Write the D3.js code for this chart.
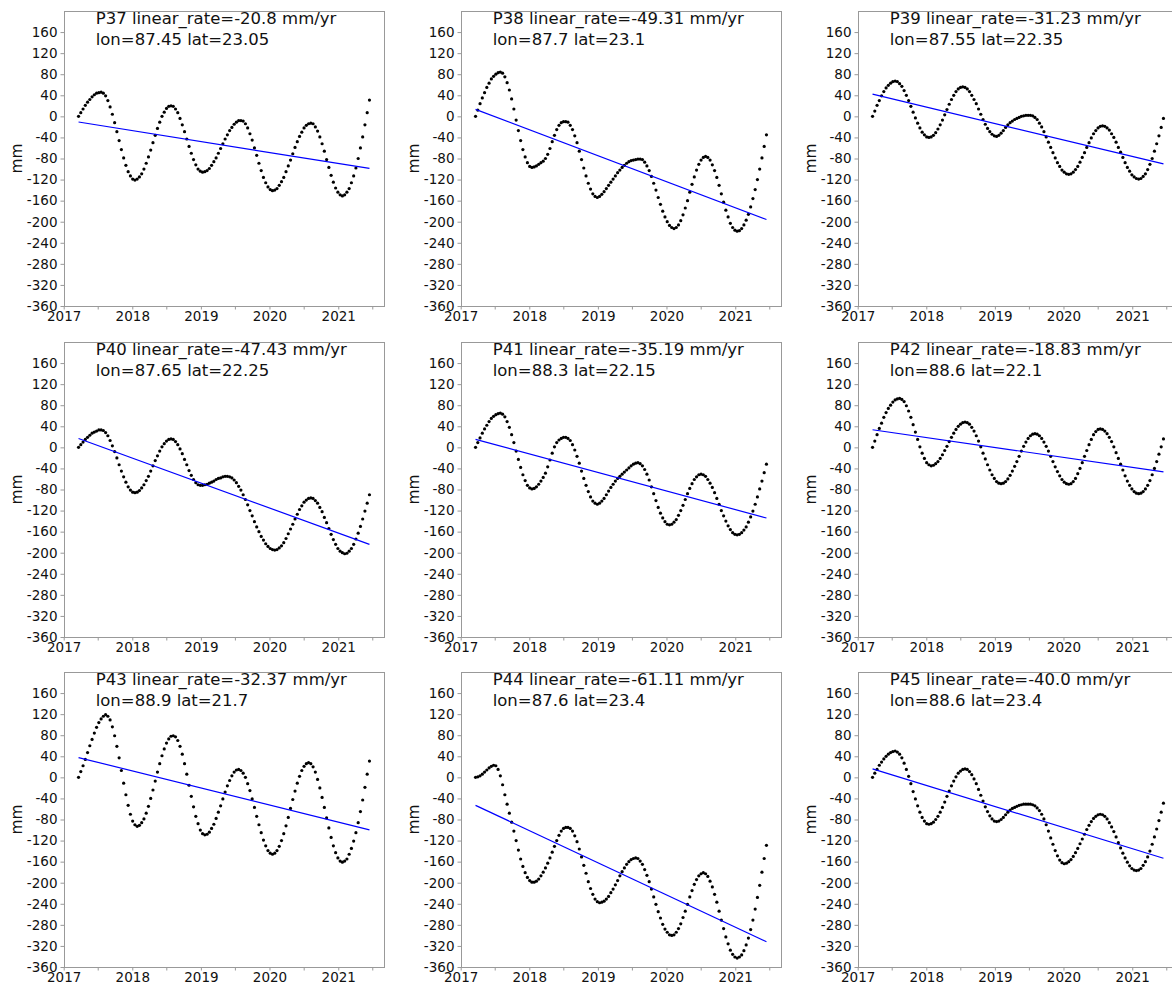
<!DOCTYPE html>
<html>
<head>
<meta charset="utf-8">
<script src="https://cdn.jsdelivr.net/npm/d3@7"></script>
<style>
  body { margin: 0; background: #fff; }
  svg { display: block; font-family: "DejaVu Sans", sans-serif; }
  svg text { font-family: "DejaVu Sans", sans-serif; }
</style>
</head>
<body>
<svg id="chart" width="1172" height="987"></svg>
<script>
// point names + header info
const names = ["P37", "P38", "P39", "P40", "P41", "P42", "P43", "P44", "P45"];
const rates = [-20.8, -49.31, -31.23, -47.43, -35.19, -18.83, -32.37, -61.11, -40.0];
const lons = [87.45, 87.7, 87.55, 87.65, 88.3, 88.6, 88.9, 87.6, 88.6];
const lats = [23.05, 23.1, 22.35, 22.25, 22.15, 22.1, 21.7, 23.4, 23.4];

// acquisitions every 12 days
const startDate = "2017-03-21";
const stepDays = 12;

// displacement, mm
const p37 = [0, 7, 14, 21, 27, 32, 37, 41, 44, 45, 46,
  44, 39, 30, 18, 4, -12, -29, -46, -63, -79, -93, -105, -113, -119, -121,
  -119, -115, -109, -100, -89, -77, -64, -50, -36, -23, -11, 0, 8, 15, 19, 20,
  19, 14, 7, -4, -16, -29, -43, -57, -70, -82, -92, -100, -104, -106,
  -105, -103, -99, -93, -86, -79, -70, -61, -52, -43, -35, -27, -21, -15, -11, -8, -8,
  -9, -14, -22, -33, -45, -60, -74, -89, -103, -116, -126, -134, -139, -141,
  -140, -137, -131, -124, -116, -105, -94, -83, -71, -59, -48, -38, -30, -22, -17, -14, -13,
  -14, -20, -28, -39, -52, -66, -82, -97, -112, -125, -136, -144, -149, -151,
  -149, -144, -137, -126, -113, -98, -80, -60, -39, -16, 7, 31];
const p38 = [0, 12, 24, 35, 45, 55, 63, 71, 76, 80, 83, 84,
  82, 75, 64, 50, 33, 14, -7, -27, -46, -63, -77, -88, -95, -97,
  -96, -94, -91, -88, -85, -80, -72, -61, -48, -36, -25, -17, -12, -10, -10,
  -11, -17, -25, -37, -50, -66, -82, -98, -113, -127, -138, -147, -152, -154,
  -152, -148, -143, -137, -131, -125, -119, -113, -107, -102, -97, -93, -89, -86, -84, -83, -82, -81, -81,
  -82, -87, -94, -103, -114, -127, -140, -154, -167, -180, -191, -200, -207, -211, -213,
  -211, -206, -198, -187, -174, -160, -144, -129, -115, -102, -91, -83, -78, -76,
  -78, -83, -92, -103, -116, -131, -147, -163, -178, -191, -203, -211, -216, -218,
  -217, -213, -206, -197, -186, -172, -156, -139, -120, -100, -79, -57, -35];
const p39 = [0, 10, 21, 30, 39, 47, 54, 59, 63, 66, 67,
  66, 62, 57, 49, 40, 30, 19, 8, -3, -13, -22, -30, -35, -39, -40,
  -39, -36, -31, -24, -16, -7, 3, 13, 23, 32, 40, 47, 52, 55, 56,
  55, 52, 47, 40, 32, 24, 14, 4, -6, -15, -23, -29, -34, -37, -38,
  -36, -32, -27, -21, -16, -12, -9, -6, -4, -2, 0, 1, 2, 2, 2,
  1, -2, -6, -13, -20, -29, -39, -49, -59, -69, -79, -88, -95, -102, -106, -109, -110,
  -109, -106, -101, -95, -87, -78, -69, -59, -50, -41, -33, -27, -22, -19, -18,
  -19, -22, -26, -33, -40, -49, -59, -68, -78, -88, -97, -104, -111, -115, -118, -119,
  -118, -114, -109, -101, -91, -80, -66, -52, -37, -21, -4];
const p40 = [0, 5, 10, 15, 19, 23, 27, 29, 31, 33, 33,
  32, 28, 22, 13, 3, -8, -20, -33, -45, -56, -66, -75, -81, -85, -86,
  -85, -82, -77, -71, -63, -55, -45, -35, -25, -16, -7, 1, 7, 12, 15, 16,
  15, 11, 5, -3, -12, -23, -33, -44, -53, -61, -67, -71, -72,
  -72, -71, -70, -68, -66, -64, -61, -59, -58, -56, -55, -55,
  -56, -58, -62, -67, -74, -81, -90, -99, -109, -120, -130, -141, -151, -160, -169, -176, -183, -188, -192, -194, -195,
  -194, -191, -187, -181, -173, -164, -155, -146, -136, -127, -118, -111, -104, -100, -97, -96,
  -97, -101, -106, -114, -122, -133, -143, -154, -165, -175, -184, -192, -197, -200, -202,
  -201, -197, -192, -184, -174, -163, -150, -136, -121, -106, -90];
const p41 = [0, 9, 18, 27, 35, 42, 49, 55, 59, 62, 64, 65,
  63, 58, 49, 38, 24, 9, -7, -23, -38, -52, -63, -72, -77, -79,
  -78, -75, -70, -64, -57, -49, -37, -24, -11, 1, 9, 14, 17, 19, 19,
  17, 13, 5, -5, -17, -30, -45, -59, -72, -84, -94, -102, -106, -108,
  -106, -102, -97, -90, -83, -76, -70, -64, -59, -55, -51, -47, -43, -39, -35, -32, -30, -29,
  -31, -35, -42, -51, -62, -75, -88, -101, -114, -125, -134, -141, -146, -147,
  -146, -142, -137, -129, -120, -110, -99, -88, -78, -69, -61, -56, -52, -51,
  -52, -55, -61, -68, -76, -86, -97, -108, -120, -130, -140, -149, -156, -162, -165, -166,
  -165, -162, -157, -151, -142, -132, -121, -108, -94, -79, -64, -48, -32];
const p42 = [0, 12, 24, 36, 46, 57, 66, 74, 80, 86, 90, 92, 93,
  91, 87, 79, 69, 57, 43, 29, 15, 1, -11, -21, -29, -33, -35,
  -34, -31, -27, -21, -14, -6, 2, 11, 19, 27, 34, 40, 44, 47, 48,
  47, 44, 38, 31, 22, 12, 1, -11, -22, -33, -43, -52, -59, -65, -68, -69,
  -68, -65, -60, -53, -45, -36, -27, -17, -7, 2, 10, 17, 22, 25, 26,
  25, 22, 17, 10, 2, -7, -17, -27, -37, -46, -54, -61, -66, -69, -70,
  -69, -65, -59, -50, -40, -29, -17, -6, 5, 15, 24, 30, 34, 35,
  34, 31, 26, 19, 11, 1, -10, -21, -32, -43, -54, -64, -72, -79, -84, -87, -88,
  -87, -84, -79, -72, -63, -52, -40, -27, -13, 1, 16];
const p43 = [0, 11, 22, 34, 47, 60, 72, 84, 95, 104, 111, 116, 119,
  116, 109, 96, 79, 59, 37, 13, -11, -33, -53, -70, -83, -90, -93,
  -91, -86, -79, -68, -55, -40, -24, -7, 10, 26, 41, 54, 65, 73, 78, 79,
  77, 70, 59, 44, 26, 6, -15, -36, -56, -74, -88, -100, -107, -109,
  -108, -104, -97, -89, -78, -66, -54, -41, -28, -16, -6, 3, 10, 14, 15,
  13, 8, 0, -12, -25, -41, -57, -74, -90, -105, -119, -130, -139, -144, -146,
  -144, -139, -131, -120, -107, -92, -76, -59, -42, -26, -11, 2, 13, 21, 26, 28,
  26, 20, 10, -4, -20, -38, -57, -77, -96, -114, -130, -143, -153, -159, -161,
  -159, -155, -146, -135, -121, -105, -86, -65, -43, -19, 6, 31];
const p44 = [0, 1, 3, 6, 10, 14, 18, 21, 23,
  22, 15, 3, -14, -33, -51, -68, -85, -102, -120, -138, -155, -169, -181, -190, -196, -199,
  -199, -197, -193, -187, -180, -172, -163, -153, -142, -131, -120, -110, -102, -97, -95, -95,
  -97, -102, -111, -122, -136, -151, -167, -182, -198, -211, -222, -231, -236, -238,
  -237, -235, -231, -226, -219, -212, -204, -196, -187, -179, -172, -165, -160, -156, -154, -153,
  -154, -159, -165, -175, -186, -198, -212, -227, -241, -255, -267, -279, -288, -294, -299, -300,
  -299, -294, -287, -278, -266, -254, -241, -227, -215, -203, -194, -187, -183, -181,
  -183, -188, -197, -208, -222, -237, -254, -271, -287, -303, -316, -328, -336, -341, -343,
  -341, -337, -329, -318, -305, -289, -271, -250, -228, -205, -180, -154, -129];
const p45 = [0, 8, 15, 23, 29, 35, 40, 44, 47, 49, 50,
  48, 44, 37, 27, 15, 2, -12, -27, -41, -54, -66, -76, -83, -88, -89,
  -88, -85, -80, -74, -66, -57, -47, -36, -26, -16, -7, 1, 8, 12, 15, 16,
  15, 11, 5, -3, -12, -23, -34, -45, -56, -65, -73, -79, -83, -84,
  -83, -80, -76, -71, -66, -62, -59, -57, -55, -53, -52, -51, -51, -51,
  -51, -52, -54, -58, -63, -70, -79, -90, -102, -115, -127, -139, -149, -157, -162, -164,
  -163, -160, -156, -150, -143, -135, -126, -117, -108, -99, -91, -84, -78, -74, -71, -70,
  -71, -74, -79, -86, -94, -103, -113, -124, -134, -144, -153, -161, -168, -173, -176, -177,
  -176, -173, -167, -160, -151, -140, -127, -113, -98, -82, -66, -49];
const series = [p37, p38, p39, p40, p41, p42, p43, p44, p45];

const yTicks = [-360, -320, -280, -240, -200, -160, -120, -80, -40, 0, 40, 80, 120, 160];
const tickYears = [2017, 2018, 2019, 2020, 2021];

const svg = d3.select("#chart");
const plotW = 320, plotH = 295;
const colX = [64, 461, 858], rowY = [11, 342, 672];
const spineColor = "#999";
const font = "DejaVu Sans";

// python-like float repr (-40.0 stays -40.0)
const pyNum = v => Number.isInteger(v) ? v.toFixed(1) : String(v);

const start = d3.isoParse(startDate + "T00:00:00");
const dates = d3.range(p37.length).map(i => d3.timeDay.offset(start, i * stepDays));
const decYear = d => {
  const y = d.getFullYear();
  const a = new Date(y, 0, 1), b = new Date(y + 1, 0, 1);
  return y + (d - a) / (b - a);
};
const tYears = dates.map(decYear);

// 5% margin each side like matplotlib autoscale
const span = dates[dates.length - 1] - dates[0];
const x = d3.scaleTime()
  .domain([new Date(+dates[0] - 0.05 * span), new Date(+dates[dates.length - 1] + 0.05 * span)])
  .range([0, plotW]);
const y = d3.scaleLinear().domain([-360, 200]).range([plotH, 0]);

const xTickVals = [];
tickYears.forEach(yr => { xTickVals.push(new Date(yr, 0, 1)); xTickVals.push(new Date(yr, 6, 1)); });

series.forEach((vals, k) => {
  const left = colX[k % 3], top = rowY[Math.floor(k / 3)];
  const g = svg.append("g").attr("transform", `translate(${left},${top})`);

  // trend line with the reported rate, least squares offset
  const rate = rates[k];
  const t0 = tYears[0];
  const b = d3.mean(vals, (v, i) => v - rate * (tYears[i] - t0));
  const fit = [0, dates.length - 1].map(i => ({ d: dates[i], v: b + rate * (tYears[i] - t0) }));

  // points
  g.selectAll(".pt")
    .data(vals)
    .enter()
    .append("circle")
    .attr("class", "pt")
    .attr("cx", (v, i) => x(dates[i]))
    .attr("cy", v => y(v))
    .attr("r", 1.6)
    .attr("fill", "#000");

  g.append("path")
    .datum(fit)
    .attr("fill", "none")
    .attr("stroke", "#0000ff")
    .attr("stroke-width", 1.2)
    .attr("d", d3.line().x(d => x(d.d)).y(d => y(d.v)));

  // axes
  const ya = g.append("g")
    .call(d3.axisLeft(y).tickValues(yTicks).tickFormat(d => String(d)).tickSize(3.5).tickPadding(3));
  const xa = g.append("g")
    .attr("transform", `translate(0,${plotH})`)
    .call(d3.axisBottom(x).tickValues(xTickVals)
      .tickFormat(d => d.getMonth() === 0 ? String(d.getFullYear()) : "")
      .tickSize(3.5).tickPadding(1.5));
  [ya, xa].forEach(a => {
    a.attr("font-family", font).attr("font-size", 13.5);
    a.select(".domain").remove();
    a.selectAll(".tick line").attr("stroke", spineColor);
    a.selectAll(".tick text").attr("fill", "#111");
  });

  g.append("rect")
    .attr("width", plotW)
    .attr("height", plotH)
    .attr("fill", "none")
    .attr("stroke", spineColor)
    .attr("shape-rendering", "crispEdges");

  g.append("text")
    .attr("transform", `translate(-42.5,${plotH / 2}) rotate(-90)`)
    .attr("text-anchor", "middle")
    .attr("font-family", font)
    .attr("font-size", 15.5)
    .attr("fill", "#111")
    .text("mm");

  const head = g.append("text")
    .attr("font-family", font)
    .attr("font-size", 16.5)
    .attr("fill", "#111");
  head.append("tspan").attr("x", 31.7).attr("y", 12.5)
    .text(`${names[k]} linear_rate=${pyNum(rate)} mm/yr`);
  head.append("tspan").attr("x", 31.7).attr("y", 34.2)
    .text(`lon=${pyNum(lons[k])} lat=${pyNum(lats[k])}`);
});
</script>
</body>
</html>
